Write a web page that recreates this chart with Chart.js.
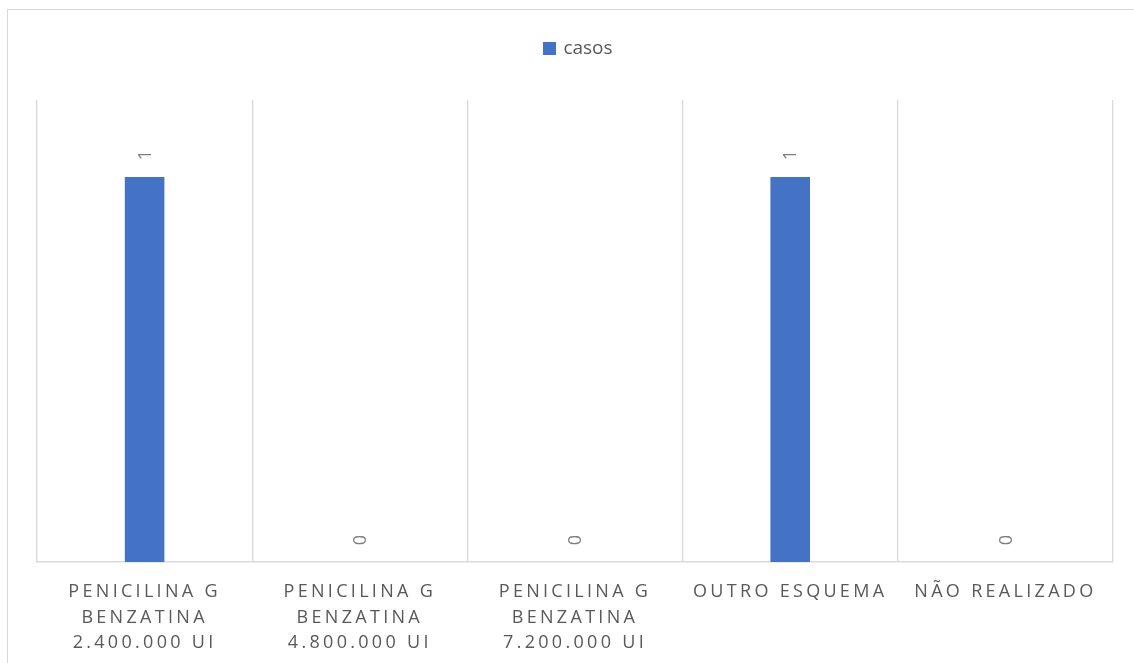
<!DOCTYPE html>
<html>
<head>
<meta charset="utf-8">
<script src="https://cdn.jsdelivr.net/npm/chart.js@4"></script>
<style>
  html, body { margin: 0; background: #fff; overflow: hidden; width: 1134px; height: 663px; }
  #frame { position: absolute; left: 7px; top: 9px; width: 2000px; height: 1000px;
           border-left: 1.5px solid #d9d9d9; border-top: 1.5px solid #d9d9d9; }
  #wrap { position: absolute; left: 0; top: 0; width: 1134px; height: 663px; }
  #legend { position: absolute; top: 34px; left: 40px; width: 1076px; text-align: center;
            font-family: "Open Sans", sans-serif; font-size: 19px; color: #595959; }
  #legend span.box { display: inline-block; width: 13px; height: 13px; margin-right: 7px; vertical-align: -1px; }
</style>
</head>
<body>
<div id="frame"></div>
<div id="wrap"><canvas id="myChart"></canvas></div>
<div id="legend"></div>
<script>
const categories = [
  ["PENICILINA G", "BENZATINA", "2.400.000 UI"],
  ["PENICILINA G", "BENZATINA", "4.800.000 UI"],
  ["PENICILINA G", "BENZATINA", "7.200.000 UI"],
  "OUTRO ESQUEMA",
  "NÃO REALIZADO"
];
const casos = [1, 0, 0, 1, 0];
const seriesName = "casos";
const barColor = "#4472c4";
const yMax = 1.2;

// rótulos de dados verticais + espaçamento das letras do eixo
const labelsPlugin = {
  id: "valueLabels",
  beforeDraw(chart) {
    chart.ctx.letterSpacing = "3.3px";
  },
  afterDatasetsDraw(chart) {
    const ctx = chart.ctx;
    ctx.save();
    ctx.letterSpacing = "0px";
    ctx.font = '18px "Open Sans", sans-serif';
    ctx.fillStyle = "#7f7f7f";
    ctx.textAlign = "center";
    ctx.textBaseline = "middle";
    const meta = chart.getDatasetMeta(0);
    meta.data.forEach((bar, i) => {
      ctx.save();
      ctx.translate(bar.x + 1, bar.y - 22);
      ctx.rotate(-Math.PI / 2);
      ctx.fillText(String(casos[i]), 0, 0);
      ctx.restore();
    });
    ctx.restore();
  },
  afterDraw(chart) {
    chart.ctx.letterSpacing = "0px";
  }
};

function render() {
  const ctx = document.getElementById("myChart");
  const chart = new Chart(ctx, {
    type: "bar",
    data: {
      labels: categories,
      datasets: [{
        label: seriesName,
        data: casos,
        backgroundColor: barColor,
        categoryPercentage: 1,
        barPercentage: 0.184
      }]
    },
    options: {
      responsive: true,
      maintainAspectRatio: false,
      animation: false,
      layout: { padding: { left: 37, right: 21, top: 100, bottom: 0 } },
      plugins: {
        legend: { display: false },
        tooltip: { enabled: false }
      },
      scales: {
        x: {
          afterFit: (scale) => { scale.height = 101; },
          grid: { color: "#d9d9d9", lineWidth: 1.3, offset: true, drawTicks: false },
          border: { color: "#d9d9d9", width: 1.5 },
          ticks: {
            color: "#595959",
            padding: 17,
            maxRotation: 0,
            minRotation: 0,
            autoSkip: false,
            font: { family: "Open Sans", size: 18, lineHeight: 1.43 }
          }
        },
        y: { display: false, min: 0, max: yMax }
      }
    },
    plugins: [labelsPlugin]
  });

  const legendEl = document.getElementById("legend");
  chart.data.datasets.forEach(ds => {
    legendEl.innerHTML += `<span class="box" style="background:${ds.backgroundColor}"></span>${ds.label}`;
  });
}

render();
</script>
</body>
</html>
